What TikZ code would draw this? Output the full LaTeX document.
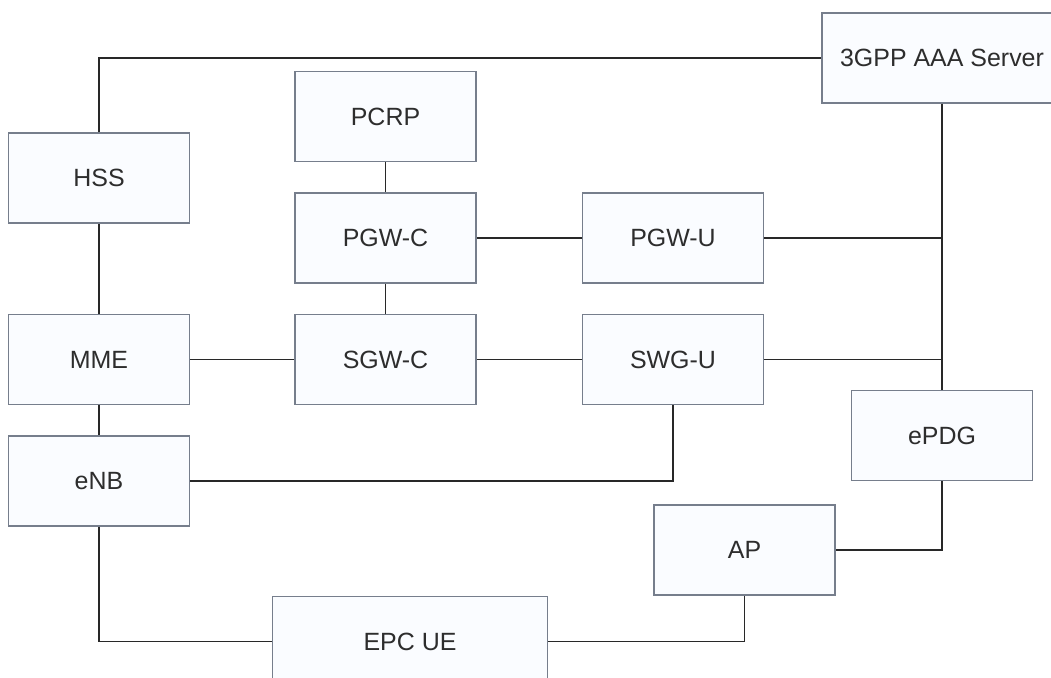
\documentclass[tikz,border=0pt]{standalone}
\usepackage{fontspec}
\setmainfont{Liberation Sans}
\usepackage{xcolor}
\usepackage{tikz}
\usetikzlibrary{positioning,calc}
\definecolor{boxline}{RGB}{118,126,140}
\definecolor{boxfill}{RGB}{250,252,255}
\definecolor{wire}{RGB}{40,40,40}
\definecolor{txt}{RGB}{45,45,45}
\tikzset{
  netbox/.style={rectangle, draw=boxline, line width=0.3mm, fill=boxfill,
                 align=center, font=\fontsize{14.2}{17}\selectfont\color{txt},
                 minimum width=36.2mm, minimum height=18mm, inner sep=0pt},
  link/.style={draw=wire, line width=0.3mm},
}

\begin{document}
\begin{tikzpicture}[node distance=6mm and 21mm]
  \useasboundingbox (0,0) rectangle (210.2mm,-135.4mm);
  % ---- core column ----
  \node[netbox] (pgwc) at (77.1mm,-47.6mm) {PGW-C};
  \node[netbox, above=of pgwc] (pcrp) {PCRP};
  \node[netbox, below=of pgwc] (sgwc) {SGW-C};
  \node[netbox, right=of pgwc] (pgwu) {PGW-U};
  \node[netbox, right=of sgwc] (swgu) {SWG-U};
  \node[netbox, left=20.8mm of sgwc] (mme) {MME};
  \node[netbox, above=18mm of mme] (hss) {HSS};
  \node[netbox, below=of mme] (enb) {eNB};

  % ---- access side ----
  \node[netbox, minimum width=48mm] (aaa) at (188.4mm,-11.6mm) {3GPP AAA Server};
  \node[netbox, below=57.2mm of aaa] (epdg) {ePDG};
  \node[netbox, below left=4.6mm and 3mm of epdg] (ap) {AP};
  \node[netbox, minimum width=55mm, below left=0mm and 21mm of ap] (epcue) {EPC UE};

  \coordinate (jup) at (pgwu.east -| aaa.south);
  \coordinate (jdown) at (swgu.east -| aaa.south);

  \draw[link] (hss.north) |- (aaa.west);
  \draw[link] (pcrp.south) -- (pgwc.north);
  \draw[link] (pgwc.south) -- (sgwc.north);
  \draw[link] (hss.south) -- (mme.north);
  \draw[link] (mme.south) -- (enb.north);
  \draw[link] (pgwc.east) -- (pgwu.west);
  \draw[link] (mme.east) -- (sgwc.west);
  \draw[link] (sgwc.east) -- (swgu.west);
  \draw[link] (pgwu.east) -- (jup);
  \draw[link] (swgu.east) -- (jdown);
  \draw[link] (aaa.south) -- (epdg.north);
  \draw[link] (enb.east) -| (swgu.south);
  \draw[link] (epdg.south) |- (ap.east);
  \draw[link] (enb.south) |- (epcue.west);
  \draw[link] (epcue.east) -| (ap.south);
\end{tikzpicture}
\end{document}
